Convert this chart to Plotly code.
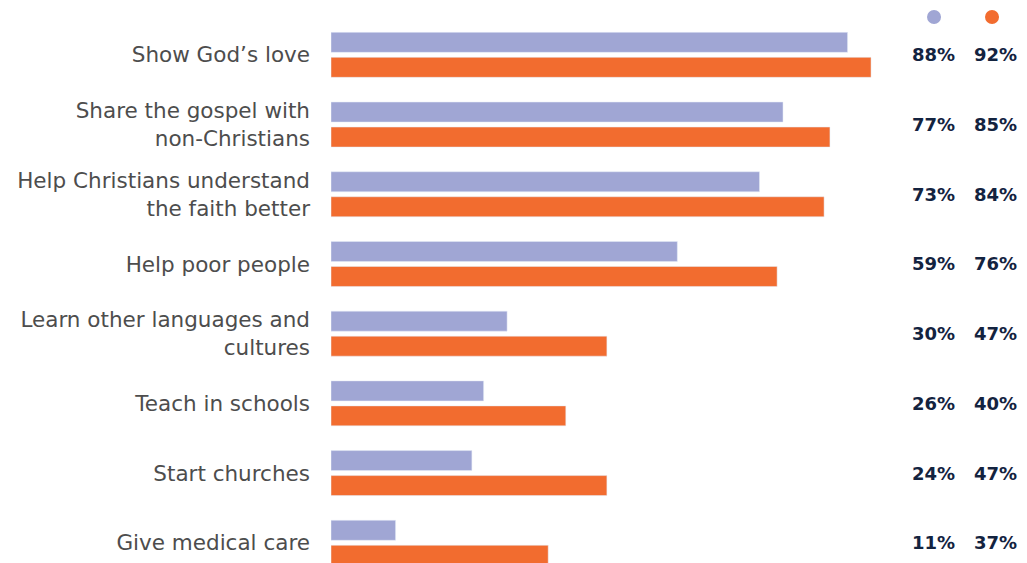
import plotly.graph_objects as go

categories = [
    "Show God’s love",
    "Share the gospel with<br>non-Christians",
    "Help Christians understand<br>the faith better",
    "Help poor people",
    "Learn other languages and<br>cultures",
    "Teach in schools",
    "Start churches",
    "Give medical care",
]
series_a = [88, 77, 73, 59, 30, 26, 24, 11]
series_b = [92, 85, 84, 76, 47, 40, 47, 37]

PURPLE = "#a0a6d4"
ORANGE = "#f26c2f"
NAVY = "#13233f"
GRAY = "#4d4d4d"

fig = go.Figure()
fig.add_trace(go.Bar(y=categories, x=series_a, orientation="h", marker_color=PURPLE,
                     name="A", hoverinfo="skip"))
fig.add_trace(go.Bar(y=categories, x=series_b, orientation="h", marker_color=ORANGE,
                     name="B", hoverinfo="skip"))

annotations = []
for cat, a, b in zip(categories, series_a, series_b):
    annotations.append(dict(x=1.0664, xref="paper", y=cat, yref="y", text=f"<b>{a}%</b>",
                            xanchor="right", yanchor="middle", showarrow=False,
                            font=dict(family="DejaVu Sans", size=18, color=NAVY)))
    annotations.append(dict(x=1.172, xref="paper", y=cat, yref="y", text=f"<b>{b}%</b>",
                            xanchor="right", yanchor="middle", showarrow=False,
                            font=dict(family="DejaVu Sans", size=18, color=NAVY)))

shapes = []
for xc, col in [(1.0273, PURPLE), (1.1261, ORANGE)]:
    shapes.append(dict(type="circle", xref="paper", yref="paper", xsizemode="pixel",
                       ysizemode="pixel", xanchor=xc, yanchor=1.0055,
                       x0=-7, x1=7, y0=-7, y1=7, fillcolor=col, line_width=0))

fig.update_layout(
    width=1019, height=555,
    margin=dict(l=323, r=109, t=12, b=0),
    paper_bgcolor="white", plot_bgcolor="white",
    barmode="group", bargap=0.283, bargroupgap=0.2,
    showlegend=False,
    annotations=annotations,
    shapes=shapes,
    xaxis=dict(range=[0, 100], visible=False, fixedrange=True),
    yaxis=dict(type="category", range=[7.29, -0.5], showgrid=False, zeroline=False,
               showline=False, ticks="", ticklabelstandoff=20, automargin=False,
               tickfont=dict(family="DejaVu Sans", size=21.5, color=GRAY)),
)

fig.write_html("out.html")
